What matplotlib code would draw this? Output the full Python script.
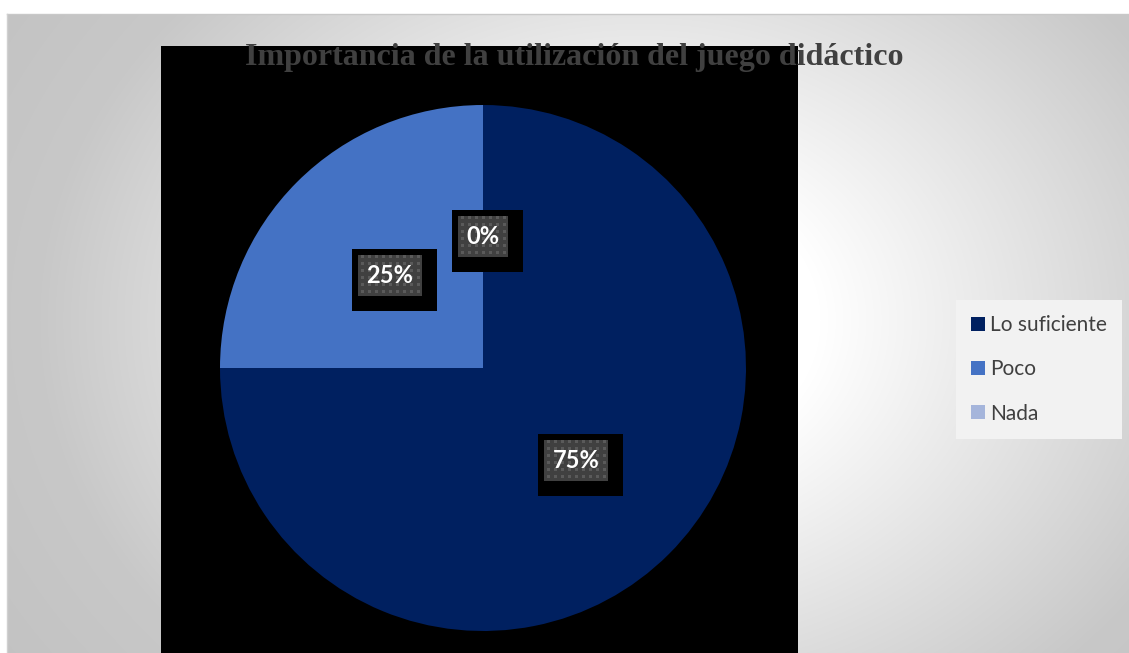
import numpy as np
import matplotlib
matplotlib.use("Agg")
import matplotlib.pyplot as plt
from matplotlib.patches import Rectangle

# Data
categories = ["Lo suficiente", "Poco", "Nada"]
values = [75, 25, 0]
colors = ["#002060", "#4472C4", "#A5B5DB"]
title = "Importancia de la utilización del juego didáctico"

W, H = 1129, 653
fig = plt.figure(figsize=(W / 100, H / 100), dpi=100)
fig.patch.set_facecolor("white")

# Full-figure axes in pixel units (y measured upward)
ax = fig.add_axes([0, 0, 1, 1])
ax.set_xlim(0, W)
ax.set_ylim(0, H)
ax.axis("off")

# Chart area with a soft elliptical grey gradient
x0, ytop = 7, 14
cw, ch = W - x0, H - ytop
yy, xx = np.mgrid[0:ch, 0:cw]
gx, gy = 640 - x0, 320 - ytop
rr = np.sqrt(((xx - gx) / 600.0) ** 2 + ((yy - gy) / 480.0) ** 2)
g = np.interp(rr, [0.0, 0.3, 1.0, 1.3], [255, 255, 200, 194]) / 255.0
img = np.dstack([g, g, g])
ax.imshow(img, extent=(x0, W, 0, H - ytop), origin="upper", zorder=0,
          aspect="auto", interpolation="bilinear")
ax.plot([x0, W], [H - ytop, H - ytop], color="#c8c8c8", lw=1, zorder=1)
ax.plot([x0, x0], [0, H - ytop], color="#d0d0d0", lw=1, zorder=1)

# Black plot-area panel
ax.add_patch(Rectangle((161, 0), 798 - 161, H - 46, facecolor="black",
                       edgecolor="none", zorder=2))

# Pie
cx, cy, r = 483, H - 368, 263
wedges, texts, autotexts = ax.pie(
    values, colors=colors, startangle=90, counterclock=False,
    center=(cx, cy), radius=r, autopct="%1.0f%%", pctdistance=0.5,
    wedgeprops=dict(linewidth=0), frame=True,
    textprops=dict(color="white", fontsize=17, fontweight="bold",
                   family="Lato"))
ax.set_xlim(0, W)
ax.set_ylim(0, H)
ax.set_aspect("auto")
for w in wedges:
    w.set_zorder(3)

# Label boxes: black backing offset down-right, dotted grey face
fig.canvas.draw()
inv = ax.transData.inverted()
for at in autotexts:
    at.set_zorder(7)
    bb = at.get_window_extent()
    (tx0, ty0), (tx1, ty1) = inv.transform([[bb.x0, bb.y0], [bb.x1, bb.y1]])
    tcx, tcy = (tx0 + tx1) / 2, (ty0 + ty1) / 2
    iw, ih = (tx1 - tx0) + 17, 41
    ix0, iy0 = tcx - iw / 2, tcy - ih / 2
    ax.add_patch(Rectangle((ix0 - 6, iy0 - 15), iw + 21, ih + 21,
                           facecolor="black", edgecolor="none", zorder=4))
    ax.add_patch(Rectangle((ix0, iy0), iw, ih, facecolor="#404040",
                           edgecolor="none", zorder=5))
    for py in np.arange(iy0 + 3, iy0 + ih - 2, 7.0):
        for px in np.arange(ix0 + 3, ix0 + iw - 2, 7.0):
            ax.add_patch(Rectangle((px, py), 3, 3, facecolor="#5a5a5a",
                                   edgecolor="none", zorder=6))

# Title
ax.text(574, H - 65, title, ha="center", va="baseline", fontsize=23,
        fontweight="bold", family="Liberation Serif", color="#404040",
        zorder=8)

# Legend
leg = ax.legend(wedges, categories, loc="upper left",
                bbox_to_anchor=(956 / W, 1 - 300 / H), bbox_transform=fig.transFigure,
                borderaxespad=0, frameon=True, fancybox=False,
                prop=dict(family="Lato", size=15), labelcolor="#404040",
                handlelength=0.65, handleheight=0.65, handletextpad=0.25,
                labelspacing=1.17, borderpad=0.72)
leg.get_frame().set_facecolor("#f2f2f2")
leg.get_frame().set_edgecolor("none")
leg.get_frame().set_alpha(1)
leg.set_zorder(9)

fig.savefig("out.png", dpi=100, facecolor="white")
